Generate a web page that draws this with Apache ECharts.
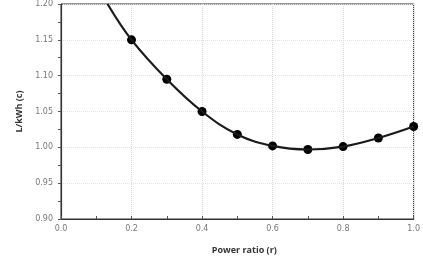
<!DOCTYPE html>
<html><head><meta charset="utf-8">
<script src="https://cdn.jsdelivr.net/npm/echarts@6/dist/echarts.min.js"></script>
<style>html,body{margin:0;padding:0;background:#fff}#c{width:423px;height:264px}</style>
</head><body><div id="c"></div>
<script>
// Data
var ratios = [0.2, 0.3, 0.4, 0.5, 0.6, 0.7, 0.8, 0.9, 1.0];
var values = [1.150, 1.095, 1.050, 1.018, 1.002, 0.997, 1.001, 1.013, 1.029];
// Fitted curve: starts at top edge then follows the points
var curveX = [0.132, 0.2, 0.3, 0.4, 0.5, 0.6, 0.7, 0.8, 0.9, 1.0];
var curveY = [1.200, 1.150, 1.095, 1.050, 1.018, 1.002, 0.997, 1.001, 1.013, 1.029];
var xTicks = ['0.0', '0.2', '0.4', '0.6', '0.8', '1.0'];
var yTicks = ['0.90', '0.95', '1.00', '1.05', '1.10', '1.15', '1.20'];

var chart = echarts.init(document.getElementById('c'), null, {renderer: 'canvas'});
var axisLabelStyle = {color: '#777', fontSize: 8, fontFamily: 'DejaVu Sans'};
chart.setOption({
  animation: false,
  grid: {left: 61, right: 6, top: 4, bottom: 45, show: true, borderColor: '#333', borderWidth: 1},
  xAxis: {
    type: 'value', min: 0, max: 1, interval: 0.2,
    name: 'Power ratio (r)', nameLocation: 'middle', nameGap: 27,
    nameTextStyle: {color: '#333', fontSize: 9, fontWeight: 'bold', fontFamily: 'Open Sans', padding: [0, 0, 0, 14]},
    axisLine: {show: true, lineStyle: {color: '#333', width: 1.2}},
    axisTick: {show: true, inside: true, length: 3, lineStyle: {color: '#555'}},
    minorTick: {show: true, splitNumber: 2, length: 3, lineStyle: {color: '#555'}},
    axisLabel: Object.assign({margin: 6, formatter: function (v) { return xTicks[Math.round(v / 0.2)]; }}, axisLabelStyle),
    splitLine: {show: true, lineStyle: {color: '#d8d8d8', type: 'dotted', width: 1}}
  },
  yAxis: {
    type: 'value', min: 0.9, max: 1.2, interval: 0.05,
    name: 'L/kWh (c)', nameLocation: 'middle', nameGap: 37,
    nameTextStyle: {color: '#333', fontSize: 9, fontWeight: 'bold', fontFamily: 'Open Sans'},
    axisLine: {show: true, lineStyle: {color: '#333', width: 1.2}},
    axisTick: {show: true, length: 3, lineStyle: {color: '#555'}},
    minorTick: {show: true, splitNumber: 2, length: 3, lineStyle: {color: '#555'}},
    axisLabel: Object.assign({margin: 8, formatter: function (v) { return yTicks[Math.round((v - 0.9) / 0.05)]; }}, axisLabelStyle),
    splitLine: {show: true, lineStyle: {color: '#e2e2e2', type: 'dotted', width: 1}}
  },
  series: [
    {
      type: 'line', smooth: 0.4, showSymbol: false, symbol: 'none',
      data: curveX.map(function (x, i) { return [x, curveY[i]]; }),
      lineStyle: {color: '#1a1a1a', width: 2.2},
      clip: true
    },
    {
      type: 'scatter', symbol: 'circle', symbolSize: 9,
      data: ratios.map(function (x, i) { return [x, values[i]]; }),
      itemStyle: {color: '#000', opacity: 1},
      clip: false
    }
  ]
});
</script></body></html>
